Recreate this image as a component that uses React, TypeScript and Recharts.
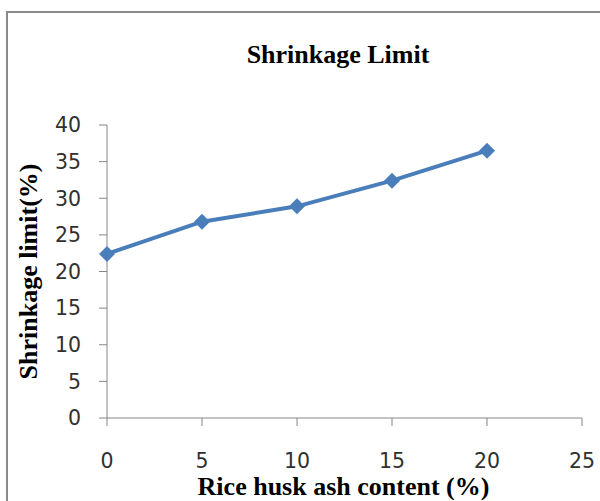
import React from "react";
import { LineChart, Line, XAxis, YAxis } from "recharts";

// values
const rhaContent = [0, 5, 10, 15, 20];
const shrinkageLimit = [22.4, 26.8, 28.9, 32.4, 36.5];
const xTicks = [0, 5, 10, 15, 20, 25];
const yTicks = [0, 5, 10, 15, 20, 25, 30, 35, 40];

const chartTitle = "Shrinkage Limit";
const xTitle = "Rice husk ash content (%)";
const yTitle = "Shrinkage limit(%)";

const data = rhaContent.map((x, i) => ({ x, value: shrinkageLimit[i] }));

const BLUE = "#4A7EBB";
const AXIS = "#868686";
const SERIF = "'Liberation Serif', 'Times New Roman', serif";
const tickStyle = { fontFamily: "'DejaVu Sans', sans-serif", fontSize: 20.5, fill: "#303030" };

const Diamond = (props: any) => {
  const { cx, cy } = props;
  if (cx == null || cy == null) return null;
  const r = 8;
  return (
    <polygon
      points={`${cx},${cy - r} ${cx + r},${cy} ${cx},${cy + r} ${cx - r},${cy}`}
      fill={BLUE}
    />
  );
};

const XTitle = ({ viewBox }: any) => (
  <text
    x={viewBox.x + viewBox.width / 2 - 1}
    y={viewBox.y + 77}
    textAnchor="middle"
    fontFamily={SERIF}
    fontWeight="bold"
    fontSize={26}
    fill="#000"
  >
    {xTitle}
  </text>
);

const YTitle = ({ viewBox }: any) => {
  const x = viewBox.x + 37;
  const y = viewBox.y + viewBox.height / 2;
  return (
    <text
      x={x}
      y={y}
      transform={`rotate(-90, ${x}, ${y})`}
      textAnchor="middle"
      fontFamily={SERIF}
      fontWeight="bold"
      fontSize={26}
      fill="#000"
    >
      {yTitle}
    </text>
  );
};

export default function App() {
  return (
    <div
      style={{
        position: "absolute",
        left: 0,
        top: 0,
        width: 600,
        height: 501,
        overflow: "hidden",
        background: "#fff",
      }}
    >
      <div
        style={{
          position: "absolute",
          left: 6,
          top: 11,
          width: 700,
          height: 700,
          border: "2px solid #8a8a8a",
        }}
      />
      <svg width={600} height={501} style={{ position: "absolute", left: 0, top: 0 }}>
        <text
          x={338}
          y={63}
          textAnchor="middle"
          fontFamily={SERIF}
          fontWeight="bold"
          fontSize={26}
          fill="#000"
        >
          {chartTitle}
        </text>
      </svg>
      <div style={{ position: "absolute", left: 0, top: 0 }}>
        <LineChart
          width={600}
          height={501}
          data={data}
          margin={{ top: 125, right: 18, bottom: 0, left: 0 }}
        >
          <XAxis
            dataKey="x"
            type="number"
            domain={[0, 25]}
            ticks={xTicks}
            height={83}
            tickSize={8}
            tickMargin={27}
            stroke={AXIS}
            tick={tickStyle}
            label={<XTitle />}
          />
          <YAxis
            type="number"
            domain={[0, 40]}
            ticks={yTicks}
            width={107}
            tickSize={8}
            tickMargin={18}
            stroke={AXIS}
            tick={tickStyle}
            label={<YTitle />}
          />
          <Line
            dataKey="value"
            stroke={BLUE}
            strokeWidth={4}
            dot={<Diamond />}
            activeDot={false}
            isAnimationActive={false}
          />
        </LineChart>
      </div>
    </div>
  );
}
